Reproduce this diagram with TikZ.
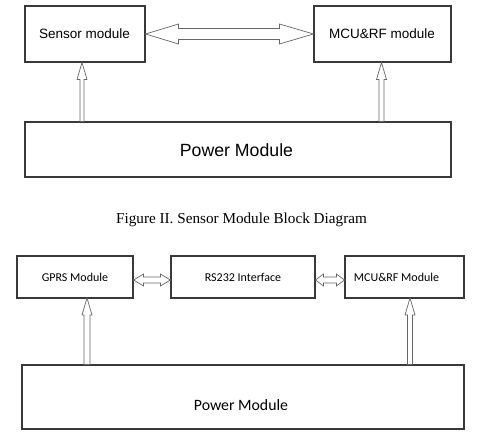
\documentclass[tikz,border=0pt]{standalone}
\usepackage{fontspec}
\setmainfont{Liberation Serif}
\newfontfamily\arialf{Liberation Sans}
\newfontfamily\calf{Carlito}
\usetikzlibrary{calc}
\begin{document}
\begin{tikzpicture}[x=1pt,y=-1pt,
  box/.style={draw=gray!45!black,line width=1.1pt,fill=white,inner sep=0pt,rectangle},
  blk/.style={draw=gray!80!black,line width=0.7pt,fill=white,line join=miter},
  lbl/.style={inner sep=0pt,anchor=center}]
\useasboundingbox (0,0) rectangle (478,432);
% ---------- top diagram ----------
\node[box,minimum width=120,minimum height=56] (sensor) at (85,34) {};
\node[box,minimum width=137,minimum height=56] (mcu1) at (382.5,34) {};
\node[box,minimum width=426,minimum height=55] (pow1) at (238,149.5) {};
\node[lbl,font=\arialf\fontsize{13.5}{14}\selectfont] (tsensor) at (84.5,34) {Sensor module};
\node[lbl,font=\arialf\fontsize{13.5}{14}\selectfont] (tmcu1) at (382,34) {MCU\&RF module};
\node[lbl,font=\arialf\fontsize{17.7}{19}\selectfont] (tpow1) at (236.5,150) {Power Module};
% horizontal double arrow
\coordinate (hl1) at (sensor.east |- 0,34);
\coordinate (hr1) at (mcu1.west |- 0,34);
\draw[blk] (hl1) -- ($(hl1)+(33,-10)$) -- ($(hl1)+(33,-5.5)$) -- ($(hr1)+(-34,-5.5)$)
  -- ($(hr1)+(-34,-10)$) -- (hr1) -- ($(hr1)+(-34,10)$) -- ($(hr1)+(-34,5.5)$)
  -- ($(hl1)+(33,5.5)$) -- ($(hl1)+(33,10)$) -- cycle;
% up arrows
\coordinate (t1) at (82,62.5);
\coordinate (b1) at (t1 |- pow1.north);
\draw[blk] (t1) -- ($(t1)+(5,17)$) -- ($(t1)+(2,17)$) -- ($(b1)+(2,0)$) -- ($(b1)+(-2,0)$)
  -- ($(t1)+(-2,17)$) -- ($(t1)+(-5,17)$) -- cycle;
\coordinate (t2) at (381.5,62.5);
\coordinate (b2) at (t2 |- pow1.north);
\draw[blk] (t2) -- ($(t2)+(5,17)$) -- ($(t2)+(2.5,17)$) -- ($(b2)+(2.5,0)$) -- ($(b2)+(-2.5,0)$)
  -- ($(t2)+(-2.5,17)$) -- ($(t2)+(-5,17)$) -- cycle;
% caption
\node[lbl,font=\fontsize{15.2}{17}\selectfont] (cap) at (241.5,220) {Figure II. Sensor Module Block Diagram};
% ---------- bottom diagram ----------
\node[box,minimum width=116,minimum height=42] (gprs) at (75,277) {};
\node[box,minimum width=144,minimum height=42] (rs) at (243,277) {};
\node[box,minimum width=119,minimum height=42] (mcu2) at (404.5,277) {};
\node[box,minimum width=442,minimum height=64] (pow2) at (243,397) {};
\node[lbl,font=\calf\fontsize{12}{13}\selectfont] (tgprs) at (75,277) {GPRS Module};
\node[lbl,font=\calf\fontsize{12}{13}\selectfont] (trs) at (243,277) {RS232 Interface};
\node[lbl,font=\calf\fontsize{12}{13}\selectfont] (tmcu2) at (396.5,277) {MCU\&RF Module};
\node[lbl,font=\calf\fontsize{15.8}{17}\selectfont] (tpow2) at (241,405) {Power Module};
% horizontal double arrows
\coordinate (hl2) at (gprs.east |- 0,280);
\coordinate (hr2) at (rs.west |- 0,280);
\draw[blk] (hl2) -- ($(hl2)+(10,-6)$) -- ($(hl2)+(10,-3)$) -- ($(hr2)+(-10,-3)$)
  -- ($(hr2)+(-10,-6)$) -- (hr2) -- ($(hr2)+(-10,6)$) -- ($(hr2)+(-10,3)$)
  -- ($(hl2)+(10,3)$) -- ($(hl2)+(10,6)$) -- cycle;
\coordinate (hl3) at (rs.east |- 0,280);
\coordinate (hr3) at (mcu2.west |- 0,280);
\draw[blk] (hl3) -- ($(hl3)+(8,-6)$) -- ($(hl3)+(8,-3)$) -- ($(hr3)+(-8,-3)$)
  -- ($(hr3)+(-8,-6)$) -- (hr3) -- ($(hr3)+(-8,6)$) -- ($(hr3)+(-8,3)$)
  -- ($(hl3)+(8,3)$) -- ($(hl3)+(8,6)$) -- cycle;
% up arrows
\coordinate (t3) at (87,298);
\coordinate (b3) at (t3 |- pow2.north);
\draw[blk] (t3) -- ($(t3)+(5,17)$) -- ($(t3)+(3,17)$) -- ($(b3)+(3,0)$) -- ($(b3)+(-3,0)$)
  -- ($(t3)+(-3,17)$) -- ($(t3)+(-5,17)$) -- cycle;
\coordinate (t4) at (410,298);
\coordinate (b4) at (t4 |- pow2.north);
\draw[blk] (t4) -- ($(t4)+(5,17)$) -- ($(t4)+(2.5,17)$) -- ($(b4)+(2.5,0)$) -- ($(b4)+(-2.5,0)$)
  -- ($(t4)+(-2.5,17)$) -- ($(t4)+(-5,17)$) -- cycle;
\end{tikzpicture}
\end{document}
